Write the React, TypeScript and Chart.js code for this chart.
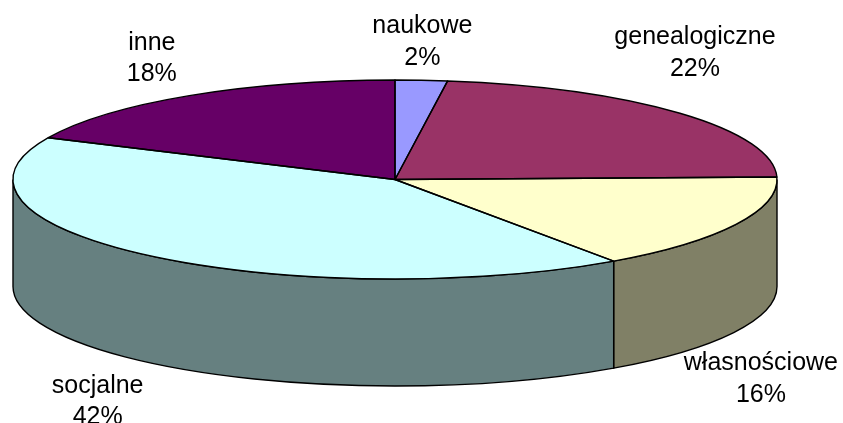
import React, { useEffect, useRef } from "react";
import { Chart, registerables } from "chart.js";

Chart.register(...registerables);

const categories = ["naukowe", "genealogiczne", "własnościowe", "socjalne", "inne"];
const shares = [2.2, 22.4, 15.7, 41.6, 18.1];
const topColors = ["#9999FF", "#993366", "#FFFFCC", "#CCFFFF", "#660066"];
const wallColors = ["#4D4D80", "#4D1A33", "#808066", "#668080", "#330033"];
// label anchor relative to the rim point at each slice's middle angle
const labelShift = [
  [1, -47],
  [15, -69],
  [25, 146],
  [-52, 137],
  [-37.5, -46],
];

const CX = 395;
const CY = 179.5;
const RX = 382;
const RY = 99.5;
const DEPTH = 107;
const FONT_PX = 25;
const LINE_PX = 31.5;

const tiltPlugin = {
  id: "tilt",
  beforeDatasetsDraw(chart: any) {
    const ctx = chart.ctx;
    const arcs = chart.getDatasetMeta(0).data;
    // side wall: only the part of each slice in the front half is visible
    arcs.forEach((arc: any, i: number) => {
      const a = Math.max(arc.startAngle, 0);
      const b = Math.min(arc.endAngle, Math.PI);
      if (b <= a) return;
      ctx.save();
      ctx.beginPath();
      ctx.ellipse(CX, CY, RX, RY, 0, a, b, false);
      ctx.ellipse(CX, CY + DEPTH, RX, RY, 0, b, a, true);
      ctx.closePath();
      ctx.fillStyle = wallColors[i];
      ctx.fill();
      ctx.lineWidth = 1.4;
      ctx.strokeStyle = "#000";
      ctx.stroke();
      ctx.restore();
    });
    const R = arcs[0].outerRadius;
    ctx.save();
    ctx.translate(CX, CY);
    ctx.scale(RX / R, RY / R);
    ctx.translate(-arcs[0].x, -arcs[0].y);
  },
  afterDatasetsDraw(chart: any) {
    const ctx = chart.ctx;
    ctx.restore();
    const arcs = chart.getDatasetMeta(0).data;
    arcs.forEach((arc: any) => {
      ctx.save();
      ctx.beginPath();
      ctx.moveTo(CX, CY);
      ctx.ellipse(CX, CY, RX, RY, 0, arc.startAngle, arc.endAngle, false);
      ctx.closePath();
      ctx.lineWidth = 1.4;
      ctx.strokeStyle = "#000";
      ctx.lineJoin = "round";
      ctx.stroke();
      ctx.restore();
    });
    ctx.save();
    ctx.fillStyle = "#000";
    ctx.font = `${FONT_PX}px "Liberation Sans", Arial, sans-serif`;
    ctx.textAlign = "center";
    ctx.textBaseline = "alphabetic";
    arcs.forEach((arc: any, i: number) => {
      const mid = (arc.startAngle + arc.endAngle) / 2;
      const x = CX + RX * Math.cos(mid) + labelShift[i][0];
      const y = CY + RY * Math.sin(mid) + labelShift[i][1];
      ctx.fillText(categories[i], x, y);
      ctx.fillText(`${Math.round(shares[i])}%`, x, y + LINE_PX);
    });
    ctx.restore();
  },
};

export default function App() {
  const ref = useRef<HTMLCanvasElement>(null);
  useEffect(() => {
    document.body.style.margin = "0";
    document.body.style.background = "#fff";
    const chart = new Chart(ref.current!, {
      type: "pie",
      data: {
        labels: categories,
        datasets: [
          {
            data: shares,
            backgroundColor: topColors,
            borderWidth: 0,
            clip: false,
          } as any,
        ],
      },
      options: {
        responsive: false,
        animation: false,
        events: [],
        layout: { padding: 0 },
        plugins: { legend: { display: false }, tooltip: { enabled: false } },
      },
      plugins: [tiltPlugin],
    });
    return () => chart.destroy();
  }, []);
  return (
    <div style={{ width: 843, height: 423, overflow: "hidden" }}>
      <canvas ref={ref} width={843} height={423} style={{ display: "block" }} />
    </div>
  );
}
